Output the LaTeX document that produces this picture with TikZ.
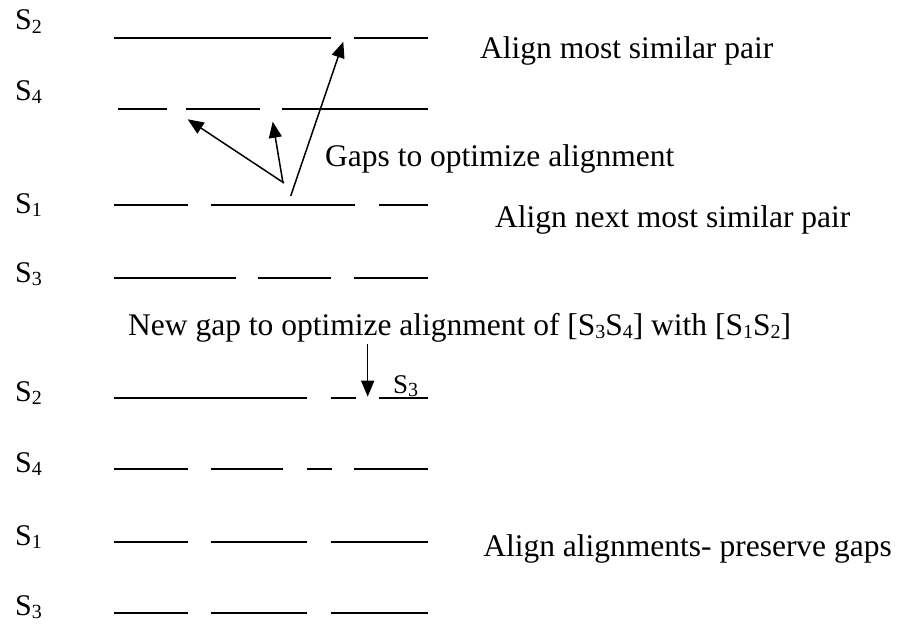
\documentclass[tikz,border=0pt]{standalone}
\usepackage{fontspec}
\setmainfont{Liberation Serif}
\usetikzlibrary{arrows.meta}
\newcommand\mysub[1]{\raisebox{-0.12em}{\fontsize{20}{20}\selectfont #1}}
\begin{document}
\begin{tikzpicture}[x=1pt,y=-1pt,
  seq/.style={line width=2pt},
  arr/.style={line width=1.5pt,-{Triangle[length=16pt,width=13pt]}},
  lbl/.style={anchor=base west,inner sep=0pt,font=\fontsize{30}{36}\selectfont},
  txt/.style={anchor=base west,inner sep=0pt,font=\fontsize{31.5}{36}\selectfont}]
\useasboundingbox (0,0) rectangle (898,626);
% row labels
\node[lbl] (l1) at (15,30) {S\mysub{2}};
\node[lbl] (l2) at (15,100) {S\mysub{4}};
\node[lbl] (l3) at (15,213) {S\mysub{1}};
\node[lbl] (l4) at (15,282) {S\mysub{3}};
\node[lbl] (l5) at (15,401) {S\mysub{2}};
\node[lbl] (l6) at (15,472) {S\mysub{4}};
\node[lbl] (l7) at (15,545) {S\mysub{1}};
\node[lbl] (l8) at (15,615) {S\mysub{3}};
% sequences
\draw[seq] (114.3,37.7) -- (331,37.7) (354.3,37.7) -- (427.7,37.7);
\draw[seq] (117.7,109.3) -- (166.7,109.3) (186,109.3) -- (260,109.3) (282.3,109.3) -- (427.7,109.3);
\draw[seq] (114.3,205) -- (187.7,205) (210.7,205) -- (355.3,205) (379,205) -- (427.7,205);
\draw[seq] (114.3,277.7) -- (235.7,277.7) (258.3,277.7) -- (331,277.7) (354.3,277.7) -- (427.7,277.7);
\draw[seq] (114.3,397.7) -- (307.3,397.7) (330.7,397.7) -- (356,397.7) (379,397.7) -- (427.7,397.7);
\draw[seq] (114.3,469.3) -- (187.7,469.3) (210.7,469.3) -- (283.3,469.3) (306.7,469.3) -- (331.7,469.3) (354.3,469.3) -- (427.7,469.3);
\draw[seq] (114.3,541.7) -- (187.7,541.7) (210.7,541.7) -- (307.3,541.7) (330.7,541.7) -- (427.7,541.7);
\draw[seq] (114.3,612.7) -- (187.7,612.7) (210.7,612.7) -- (307.3,612.7) (330.7,612.7) -- (427.7,612.7);
% arrows
\coordinate (a1s) at (284,183);
\coordinate (a1e) at (187.7,119.3);
\coordinate (a2s) at (283,183);
\coordinate (a2e) at (272.7,121.7);
\coordinate (a3s) at (290.7,196);
\coordinate (a3e) at (343.3,41.7);
\coordinate (a4s) at (367.7,344);
\coordinate (a4e) at (367.7,396.7);
\draw[arr] (a1s) -- (a1e);
\draw[arr] (a2s) -- (a2e);
\draw[arr] (a3s) -- (a3e);
\draw[arr] (a4s) -- (a4e);
% texts
\node[txt] (t1) at (480,59) {Align most similar pair};
\node[txt] (t2) at (325,167) {Gaps to optimize alignment};
\node[txt] (t3) at (495,227) {Align next most similar pair};
\node[txt] (t4) at (128,335) {New gap to optimize alignment of [S\mysub{3}S\mysub{4}] with [S\mysub{1}S\mysub{2}]};
\node[txt,anchor=base east] (t5) at (892,556) {Align alignments- preserve gaps};
\node[anchor=base west,inner sep=0pt,font=\fontsize{27}{30}\selectfont] (t6) at (393,393) {S\mysub{3}};
\end{tikzpicture}
\end{document}
